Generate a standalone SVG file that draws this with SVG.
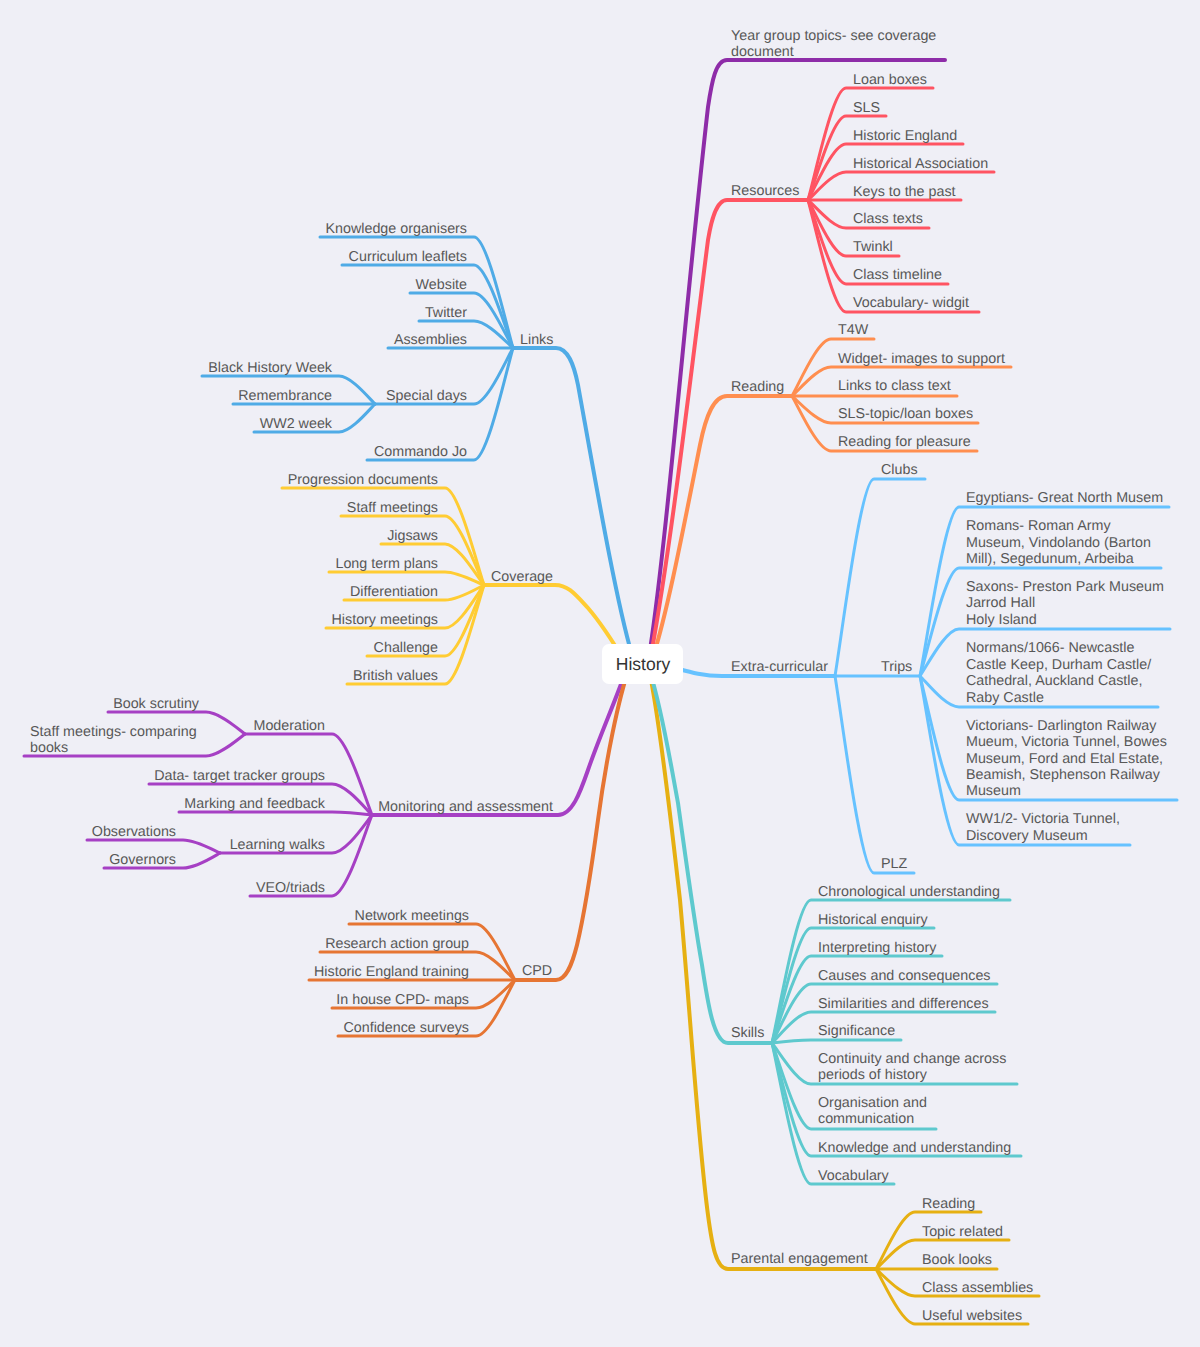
<svg xmlns="http://www.w3.org/2000/svg" width="1200" height="1347" viewBox="0 0 1200 1347">
<style>
text{font-family:"Liberation Sans",Arial,sans-serif;font-size:14.3px;fill:#585858;text-rendering:geometricPrecision}
.e{text-anchor:end}
path{fill:none;stroke-linecap:round;stroke-linejoin:round;stroke-width:3}
.m{stroke-width:4}
.pu{stroke:#8e2ca8}.re{stroke:#ff5462}.or{stroke:#ff8e4f}.lb{stroke:#66c2ff}.te{stroke:#5ec9ce}.go{stroke:#e6b012}
.bl{stroke:#4fabe6}.ye{stroke:#ffcc33}.vi{stroke:#a640c4}.do{stroke:#e67533}
</style>
<rect width="1200" height="1347" fill="#efeff6"/>
<g id="connectors">
<g class="bl">
<path class="m" d="M632 655C616 600 597 490 578 385C574 365 568 348 556 348H513"/>
<path d="M513 348C505 320 487 237 474 237H320"/>
<path d="M513 348C505 327 487 265 474 265H342"/>
<path d="M513 348C505 334 487 293 474 293H410"/>
<path d="M513 348C505 341 487 321 474 321H419"/>
<path d="M513 348H388"/>
<path d="M513 348C505 362 487 404 474 404H375"/>
<path d="M513 348C505 376 487 460 474 460H367"/>
<path d="M375 404C368 397 351 376 339 376H202"/>
<path d="M375 404H233"/>
<path d="M375 404C368 411 351 432 339 432H254"/>
</g>
<g class="ye">
<path class="m" d="M625 662C612 640 600 622 588 608C575 594 568 585 555 585H484"/>
<path d="M484 585C476 561 458 488 445 488H282"/>
<path d="M484 585C476 568 458 516 445 516H341"/>
<path d="M484 585C476 575 458 544 445 544H381"/>
<path d="M484 585C476 582 458 572 445 572H329"/>
<path d="M484 585C476 589 458 600 445 600H344"/>
<path d="M484 585C476 596 458 628 445 628H326"/>
<path d="M484 585C476 603 458 656 445 656H367"/>
<path d="M484 585C476 610 458 684 445 684H347"/>
</g>
<g class="vi">
<path class="m" d="M628 665C616 700 600 735 588 770C580 793 572 815 558 815H372"/>
<path d="M372 815C364 795 346 734 332 734H245"/>
<path d="M372 815C364 807 346 784 332 784H149"/>
<path d="M372 815C364 814 346 812 332 812H179"/>
<path d="M372 815C364 825 346 853 332 853H220"/>
<path d="M372 815C364 835 346 896 332 896H250"/>
<path d="M245 734C237 728 219 712 206 712H108"/>
<path d="M245 734C237 740 219 756 206 756H24"/>
<path d="M220 853C213 850 196 840 183 840H87"/>
<path d="M220 853C213 857 196 868 183 868H104"/>
</g>
<g class="do">
<path class="m" d="M630 665C618 700 606 760 598 820C591 872 583 920 577 945C572 965 566 980 556 980H515"/>
<path d="M515 980C507 966 489 924 476 924H349"/>
<path d="M515 980C507 973 489 952 476 952H320"/>
<path d="M515 980H309"/>
<path d="M515 980C507 987 489 1008 476 1008H332"/>
<path d="M515 980C507 994 489 1036 476 1036H338"/>
</g>
<g class="pu">
<path class="m" d="M650 650C668 530 686 300 708 107C712 80 716 60 727 60H945"/>
</g>
<g class="re">
<path class="m" d="M651 655C672 540 690 380 708 240C711 222 716 200 727 200H808"/>
<path d="M808 200C816 172 833 88 846 88H933"/>
<path d="M808 200C816 179 833 116 846 116H886"/>
<path d="M808 200C816 186 833 144 846 144H963"/>
<path d="M808 200C816 193 833 172 846 172H994"/>
<path d="M808 200H961"/>
<path d="M808 200C816 207 833 228 846 228H929"/>
<path d="M808 200C816 214 833 256 846 256H899"/>
<path d="M808 200C816 221 833 284 846 284H948"/>
<path d="M808 200C816 228 833 312 846 312H979"/>
</g>
<g class="or">
<path class="m" d="M653 657C668 610 685 520 700 445C706 415 714 396 727 396H792"/>
<path d="M792 396C800 382 818 339 831 339H874"/>
<path d="M792 396C800 389 818 367 831 367H1011"/>
<path d="M792 396H957"/>
<path d="M792 396C800 403 818 423 831 423H978"/>
<path d="M792 396C800 410 818 451 831 451H977"/>
</g>
<g class="lb">
<path class="m" d="M660 664C680 668 695 676 722 676H835"/>
<path d="M835 676C843 627 861 479 874 479H925"/>
<path d="M835 676H920"/>
<path d="M835 676C843 725 861 873 874 873H914"/>
<path d="M920 676C928 634 946 507 959 507H1169"/>
<path d="M920 676C928 649 946 568 959 568H1161"/>
<path d="M920 676C928 664 946 629 959 629H1170"/>
<path d="M920 676C928 684 946 707 959 707H1158"/>
<path d="M920 676C928 707 946 800 959 800H1177"/>
<path d="M920 676C928 718 946 845 959 845H1130"/>
</g>
<g class="go">
<path class="m" d="M649 670C660 720 672 830 680 900C690 1010 698 1140 708 1215C712 1245 716 1269 728 1269H876"/>
<path d="M876 1269C884 1255 902 1212 915 1212H981"/>
<path d="M876 1269C884 1262 902 1240 915 1240H1009"/>
<path d="M876 1269H997"/>
<path d="M876 1269C884 1276 902 1296 915 1296H1039"/>
<path d="M876 1269C884 1283 902 1324 915 1324H1028"/>
</g>
<g class="te">
<path class="m" d="M650 672C662 710 670 760 678 803C686 860 694 920 702 965C708 1005 714 1043 728 1043H772"/>
<path d="M772 1043C780 1007 798 900 811 900H1010"/>
<path d="M772 1043C780 1014 798 928 811 928H934"/>
<path d="M772 1043C780 1021 798 956 811 956H942"/>
<path d="M772 1043C780 1028 798 984 811 984H997"/>
<path d="M772 1043C780 1035 798 1012 811 1012H995"/>
<path d="M772 1043C780 1042 798 1040 811 1040H901"/>
<path d="M772 1043C780 1053 798 1084 811 1084H1017"/>
<path d="M772 1043C780 1064 798 1129 811 1129H936"/>
<path d="M772 1043C780 1071 798 1156 811 1156H1021"/>
<path d="M772 1043C780 1078 798 1184 811 1184H894"/>
</g>
</g>
<g id="root"><rect x="602" y="644" width="81" height="40" rx="7" fill="#fff"/><text x="643" y="670" text-anchor="middle" style="font-size:17.5px;fill:#333">History</text></g>
<g id="n-year"><text x="731" y="40">Year group topics- see coverage</text><text x="731" y="56">document</text></g>
<g id="n-resources"><text x="731" y="195">Resources</text></g>
<g id="n-r1"><text x="853" y="84">Loan boxes</text></g>
<g id="n-r2"><text x="853" y="112">SLS</text></g>
<g id="n-r3"><text x="853" y="140">Historic England</text></g>
<g id="n-r4"><text x="853" y="168">Historical Association</text></g>
<g id="n-r5"><text x="853" y="196">Keys to the past</text></g>
<g id="n-r6"><text x="853" y="223">Class texts</text></g>
<g id="n-r7"><text x="853" y="251">Twinkl</text></g>
<g id="n-r8"><text x="853" y="279">Class timeline</text></g>
<g id="n-r9"><text x="853" y="307">Vocabulary- widgit</text></g>
<g id="n-reading"><text x="731" y="391">Reading</text></g>
<g id="n-rd1"><text x="838" y="334">T4W</text></g>
<g id="n-rd2"><text x="838" y="363">Widget- images to support</text></g>
<g id="n-rd3"><text x="838" y="390">Links to class text</text></g>
<g id="n-rd4"><text x="838" y="418">SLS-topic/loan boxes</text></g>
<g id="n-rd5"><text x="838" y="446">Reading for pleasure</text></g>
<g id="n-extra"><text x="731" y="671">Extra-curricular</text></g>
<g id="n-clubs"><text x="881" y="474">Clubs</text></g>
<g id="n-trips"><text x="881" y="671">Trips</text></g>
<g id="n-plz"><text x="881" y="868">PLZ</text></g>
<g id="n-t1"><text x="966" y="502">Egyptians- Great North Musem</text></g>
<g id="n-t2"><text x="966" y="530">Romans- Roman Army</text><text x="966" y="547">Museum, Vindolando (Barton</text><text x="966" y="563">Mill), Segedunum, Arbeiba</text></g>
<g id="n-t3"><text x="966" y="591">Saxons- Preston Park Museum</text><text x="966" y="607">Jarrod Hall</text><text x="966" y="624">Holy Island</text></g>
<g id="n-t4"><text x="966" y="652">Normans/1066- Newcastle</text><text x="966" y="669">Castle Keep, Durham Castle/</text><text x="966" y="685">Cathedral, Auckland Castle,</text><text x="966" y="702">Raby Castle</text></g>
<g id="n-t5"><text x="966" y="730">Victorians- Darlington Railway</text><text x="966" y="746">Mueum, Victoria Tunnel, Bowes</text><text x="966" y="763">Museum, Ford and Etal Estate,</text><text x="966" y="779">Beamish, Stephenson Railway</text><text x="966" y="795">Museum</text></g>
<g id="n-t6"><text x="966" y="823">WW1/2- Victoria Tunnel,</text><text x="966" y="840">Discovery Museum</text></g>
<g id="n-skills"><text x="731" y="1037">Skills</text></g>
<g id="n-s1"><text x="818" y="896">Chronological understanding</text></g>
<g id="n-s2"><text x="818" y="924">Historical enquiry</text></g>
<g id="n-s3"><text x="818" y="952">Interpreting history</text></g>
<g id="n-s4"><text x="818" y="980">Causes and consequences</text></g>
<g id="n-s5"><text x="818" y="1008">Similarities and differences</text></g>
<g id="n-s6"><text x="818" y="1035">Significance</text></g>
<g id="n-s7"><text x="818" y="1063">Continuity and change across</text><text x="818" y="1079">periods of history</text></g>
<g id="n-s8"><text x="818" y="1107">Organisation and</text><text x="818" y="1123">communication</text></g>
<g id="n-s9"><text x="818" y="1152">Knowledge and understanding</text></g>
<g id="n-s10"><text x="818" y="1180">Vocabulary</text></g>
<g id="n-parental"><text x="731" y="1263">Parental engagement</text></g>
<g id="n-p1"><text x="922" y="1208">Reading</text></g>
<g id="n-p2"><text x="922" y="1236">Topic related</text></g>
<g id="n-p3"><text x="922" y="1264">Book looks</text></g>
<g id="n-p4"><text x="922" y="1292">Class assemblies</text></g>
<g id="n-p5"><text x="922" y="1320">Useful websites</text></g>
<g id="n-links"><text x="520" y="344">Links</text></g>
<g id="n-l1"><text class="e" x="467" y="233">Knowledge organisers</text></g>
<g id="n-l2"><text class="e" x="467" y="261">Curriculum leaflets</text></g>
<g id="n-l3"><text class="e" x="467" y="289">Website</text></g>
<g id="n-l4"><text class="e" x="467" y="317">Twitter</text></g>
<g id="n-l5"><text class="e" x="467" y="344">Assemblies</text></g>
<g id="n-l6"><text class="e" x="467" y="400">Special days</text></g>
<g id="n-l7"><text class="e" x="467" y="456">Commando Jo</text></g>
<g id="n-sd1"><text class="e" x="332" y="372">Black History Week</text></g>
<g id="n-sd2"><text class="e" x="332" y="400">Remembrance</text></g>
<g id="n-sd3"><text class="e" x="332" y="428">WW2 week</text></g>
<g id="n-coverage"><text x="491" y="581">Coverage</text></g>
<g id="n-c1"><text class="e" x="438" y="484">Progression documents</text></g>
<g id="n-c2"><text class="e" x="438" y="512">Staff meetings</text></g>
<g id="n-c3"><text class="e" x="438" y="540">Jigsaws</text></g>
<g id="n-c4"><text class="e" x="438" y="568">Long term plans</text></g>
<g id="n-c5"><text class="e" x="438" y="596">Differentiation</text></g>
<g id="n-c6"><text class="e" x="438" y="624">History meetings</text></g>
<g id="n-c7"><text class="e" x="438" y="652">Challenge</text></g>
<g id="n-c8"><text class="e" x="438" y="680">British values</text></g>
<g id="n-monitoring"><text class="e" x="553" y="811">Monitoring and assessment</text></g>
<g id="n-mod"><text class="e" x="325" y="730">Moderation</text></g>
<g id="n-mo1"><text class="e" x="199" y="708">Book scrutiny</text></g>
<g id="n-mo2"><text x="30" y="736">Staff meetings- comparing</text><text x="30" y="752">books</text></g>
<g id="n-m2"><text class="e" x="325" y="780">Data- target tracker groups</text></g>
<g id="n-m3"><text class="e" x="325" y="808">Marking and feedback</text></g>
<g id="n-lw"><text class="e" x="325" y="849">Learning walks</text></g>
<g id="n-lw1"><text class="e" x="176" y="836">Observations</text></g>
<g id="n-lw2"><text class="e" x="176" y="864">Governors</text></g>
<g id="n-m5"><text class="e" x="325" y="892">VEO/triads</text></g>
<g id="n-cpd"><text x="522" y="975">CPD</text></g>
<g id="n-cp1"><text class="e" x="469" y="920">Network meetings</text></g>
<g id="n-cp2"><text class="e" x="469" y="948">Research action group</text></g>
<g id="n-cp3"><text class="e" x="469" y="976">Historic England training</text></g>
<g id="n-cp4"><text class="e" x="469" y="1004">In house CPD- maps</text></g>
<g id="n-cp5"><text class="e" x="469" y="1032">Confidence surveys</text></g>
</svg>
